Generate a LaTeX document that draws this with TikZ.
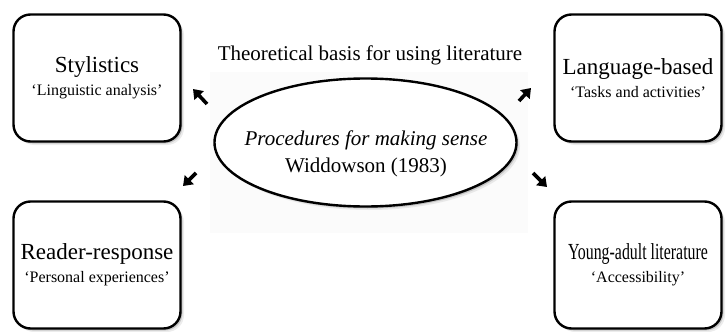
\documentclass[tikz,border=0pt]{standalone}
\usepackage{fontspec}
\setmainfont{Liberation Serif}
\usepackage{graphicx}
\usetikzlibrary{shapes.geometric,shadows,arrows.meta}

\begin{document}
\begin{tikzpicture}[x=1pt,y=-1pt,
  approach/.style={draw, line width=2.4pt, rounded corners=17pt, fill=white,
    minimum width=167pt, minimum height=127pt, align=center, inner sep=0pt,
    drop shadow={shadow xshift=2pt, shadow yshift=-2pt, opacity=0.35},
    drop shadow={shadow xshift=3.5pt, shadow yshift=-3.5pt, opacity=0.15}},
  basis/.style={draw, ellipse, line width=2.4pt, fill=white,
    minimum width=302pt, minimum height=128pt, inner sep=0pt,
    drop shadow={shadow xshift=2pt, shadow yshift=-2pt, opacity=0.35},
    drop shadow={shadow xshift=3.5pt, shadow yshift=-3.5pt, opacity=0.15}},
  pointer/.style={-{Triangle[length=9pt,width=12.5pt]}, line width=3.6pt}]
\useasboundingbox (0,0) rectangle (726,332);

% faint panel behind the centre
\fill[black!1.5] (210,72) rectangle (528,233);

\node (title) at (370,55) {\fontsize{21}{25}\selectfont Theoretical basis for using literature};

\node[basis] (centre) at (365.5,142.5) {};
\node[align=center, font=\fontsize{21}{27}\selectfont] (centretext) at (366,154)
  {\textit{Procedures for making sense}\\Widdowson (1983)};

\node[approach] (stylistics) at (97,78)
  {{\fontsize{23}{27}\selectfont Stylistics}\\[6pt]{\fontsize{16}{20}\selectfont ‘Linguistic analysis’}};
\node[approach] (language) at (638,78)
  {{\fontsize{23}{27}\selectfont Language-based}\\[6pt]{\fontsize{16}{20}\selectfont ‘Tasks and activities’}};
\node[approach] (reader) at (97,265)
  {{\fontsize{23}{27}\selectfont Reader-response}\\[6pt]{\fontsize{16}{20}\selectfont ‘Personal experiences’}};
\node[approach] (youngadult) at (638,265)
  {{\fontsize{23}{27}\selectfont\scalebox{0.69}[1]{Young-adult literature}}\\[6pt]{\fontsize{16}{20}\selectfont ‘Accessibility’}};

% arrows pointing out to the four approaches
\coordinate (tail1) at (207,104);
\coordinate (tip1) at (193,89);
\coordinate (tail2) at (519,101);
\coordinate (tip2) at (531,88);
\coordinate (tail3) at (196,173);
\coordinate (tip3) at (183,186);
\coordinate (tail4) at (533,173);
\coordinate (tip4) at (547,187);
\draw[pointer] (tail1) -- (tip1);
\draw[pointer] (tail2) -- (tip2);
\draw[pointer] (tail3) -- (tip3);
\draw[pointer] (tail4) -- (tip4);
\end{tikzpicture}
\end{document}
